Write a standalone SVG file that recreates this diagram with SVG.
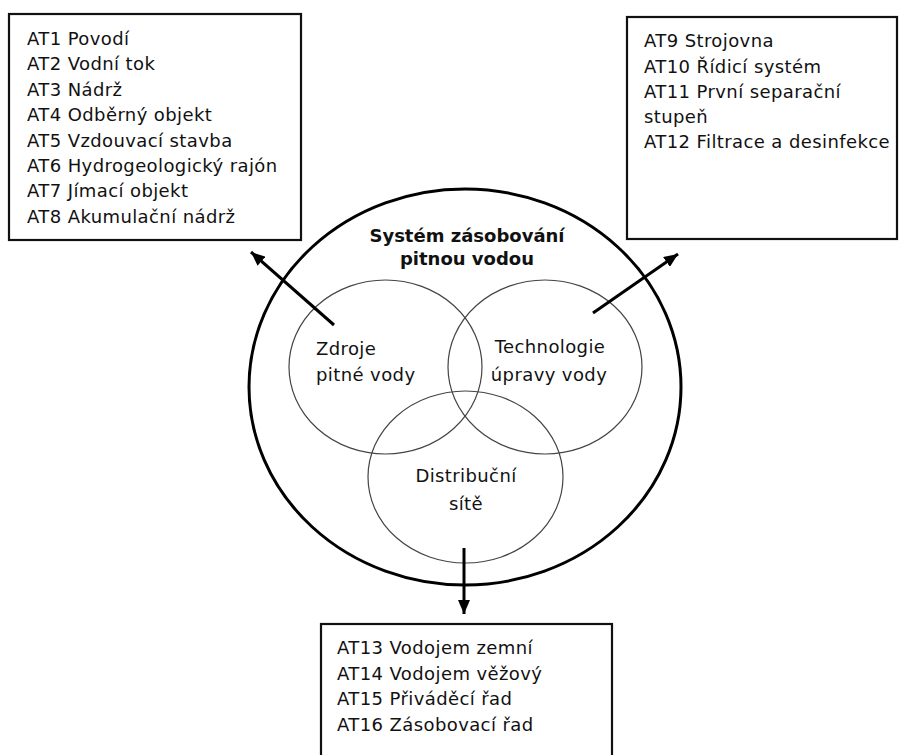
<svg xmlns="http://www.w3.org/2000/svg" width="899" height="755" viewBox="0 0 899 755">
<defs>
<style>
.box{fill:#fff;stroke:#111;stroke-width:2.2}
.t{font-family:"DejaVu Sans",Verdana,sans-serif;font-size:18px;fill:#111;letter-spacing:0.4px}
.tb{font-family:"DejaVu Sans",Verdana,sans-serif;font-size:18px;font-weight:bold;fill:#111}
.big{fill:none;stroke:#000;stroke-width:3}
.sm{fill:none;stroke:#444;stroke-width:1.2}
.arr{stroke:#000;stroke-width:3;fill:none;marker-end:url(#ah)}
</style>
<marker id="ah" viewBox="0 0 14 12" refX="14" refY="6" markerWidth="14" markerHeight="12" markerUnits="userSpaceOnUse" orient="auto">
<path d="M0,0 L14,6 L0,12 z" fill="#000"/>
</marker>
</defs>
<rect width="899" height="755" fill="#fff"/>
<g id="box-sources">
<rect class="box" x="9" y="14" width="292" height="226"/>
<text class="t" x="27" y="45">AT1 Povodí</text>
<text class="t" x="27" y="70.4">AT2 Vodní tok</text>
<text class="t" x="27" y="95.8">AT3 Nádrž</text>
<text class="t" x="27" y="121.2">AT4 Odběrný objekt</text>
<text class="t" x="27" y="146.6">AT5 Vzdouvací stavba</text>
<text class="t" x="27" y="172">AT6 Hydrogeologický rajón</text>
<text class="t" x="27" y="197.4">AT7 Jímací objekt</text>
<text class="t" x="27" y="222.8">AT8 Akumulační nádrž</text>
</g>
<g id="box-technology">
<rect class="box" x="627" y="17" width="270" height="222"/>
<text class="t" x="644" y="47">AT9 Strojovna</text>
<text class="t" x="644" y="72.5">AT10 Řídicí systém</text>
<text class="t" x="644" y="97.5">AT11 První separační</text>
<text class="t" x="644" y="123">stupeň</text>
<text class="t" x="644" y="148">AT12 Filtrace a desinfekce</text>
</g>
<g id="box-distribution">
<rect class="box" x="321" y="624" width="291" height="140"/>
<text class="t" x="337" y="654">AT13 Vodojem zemní</text>
<text class="t" x="337" y="679.5">AT14 Vodojem věžový</text>
<text class="t" x="337" y="705">AT15 Přiváděcí řad</text>
<text class="t" x="337" y="730.5">AT16 Zásobovací řad</text>
</g>
<g id="system">
<ellipse class="big" cx="465" cy="387" rx="216" ry="198"/>
<text class="tb" x="467" y="242" text-anchor="middle">Systém zásobování</text>
<text class="tb" x="467" y="265" text-anchor="middle">pitnou vodou</text>
</g>
<g id="circle-sources">
<ellipse class="sm" cx="385.5" cy="367" rx="96.5" ry="87"/>
<text class="t" x="316" y="355">Zdroje</text>
<text class="t" x="316" y="381">pitné vody</text>
</g>
<g id="circle-technology">
<ellipse class="sm" cx="545" cy="367" rx="97" ry="87"/>
<text class="t" x="550" y="353" text-anchor="middle">Technologie</text>
<text class="t" x="549" y="381" text-anchor="middle">úpravy vody</text>
</g>
<g id="circle-distribution">
<ellipse class="sm" cx="465.5" cy="477" rx="97.5" ry="86"/>
<text class="t" x="466" y="482" text-anchor="middle">Distribuční</text>
<text class="t" x="466" y="510" text-anchor="middle">sítě</text>
</g>
<g id="connectors">
<line class="arr" x1="334" y1="325" x2="251" y2="252"/>
<line class="arr" x1="593" y1="313" x2="678" y2="254"/>
<line class="arr" x1="464" y1="548" x2="464" y2="614"/>
</g>
</svg>
